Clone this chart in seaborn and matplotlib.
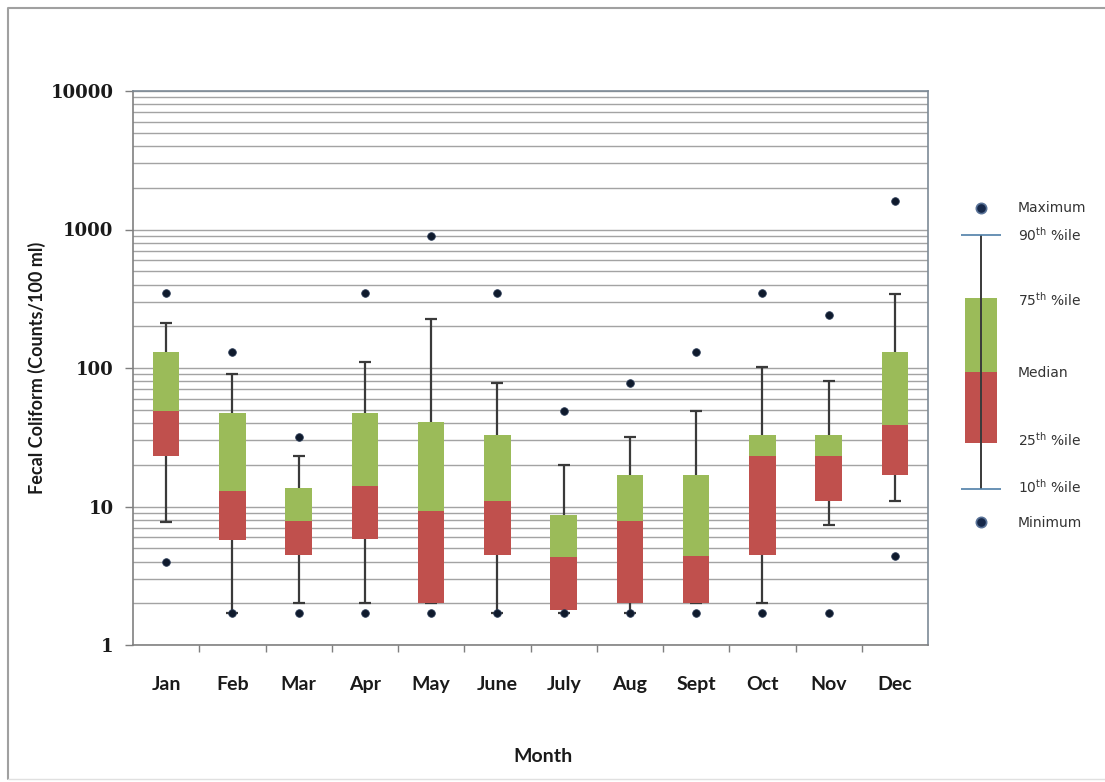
import numpy as np
import seaborn as sns
import matplotlib.pyplot as plt
from matplotlib.ticker import FixedLocator, NullFormatter

sns.set_theme(style="white")

# monthly fecal coliform summary (counts/100 ml)
months = ["Jan", "Feb", "Mar", "Apr", "May", "June", "July", "Aug", "Sept", "Oct", "Nov", "Dec"]
maximum = [350, 130, 32, 350, 900, 350, 49, 78, 130, 350, 240, 1600]
p90 = [210, 91, 23, 110, 225, 78, 20, 32, 49, 102, 81, 345]
p75 = [130, 47, 13.5, 47, 41, 33, 8.7, 17, 17, 33, 33, 130]
median = [49, 13, 7.8, 14, 9.3, 11, 4.3, 7.8, 4.4, 23, 23, 39]
p25 = [23, 5.7, 4.5, 5.8, 2.0, 4.5, 1.8, 2.0, 2.0, 4.5, 11, 17]
p10 = [7.7, 1.7, 2.0, 2.0, 2.0, 1.7, 1.7, 1.7, 2.0, 2.0, 7.4, 11]
minimum = [4.0, 1.7, 1.7, 1.7, 1.7, 1.7, 1.7, 1.7, 1.7, 1.7, 1.7, 4.4]

green = "#9BBB59"
red = "#C0504D"
dot = "#0f1a2c"
whisk = "#3a3a3a"

fig = plt.figure(figsize=(11.05, 7.82), dpi=100)
W, H = 1105, 782
ax = fig.add_axes([133 / W, 1 - 645 / H, (928 - 133) / W, (645 - 91) / H])
ax.set_yscale("log")
ax.set_ylim(1, 10000)

x = np.arange(len(months))
lo = np.array(p25)
md = np.array(median)
hi = np.array(p75)

# whiskers (10th - 25th, 75th - 90th) with caps
ax.vlines(x, p10, lo, color=whisk, lw=1.6, zorder=3)
ax.vlines(x, hi, p90, color=whisk, lw=1.6, zorder=3)
ax.hlines(p10, x - 0.09, x + 0.09, color=whisk, lw=1.6, zorder=3)
ax.hlines(p90, x - 0.09, x + 0.09, color=whisk, lw=1.6, zorder=3)

# lower half of the box (red) and upper half (green)
sns.barplot(x=months, y=md - lo, bottom=lo, color=red, saturation=1, width=0.4,
            linewidth=0, errorbar=None, ax=ax, zorder=4)
sns.barplot(x=months, y=hi - md, bottom=md, color=green, saturation=1, width=0.4,
            linewidth=0, errorbar=None, ax=ax, zorder=4)

# max / min points
sns.scatterplot(x=months, y=maximum, color=dot, s=30, edgecolor="#2a3a55", linewidth=0.6, ax=ax, zorder=5)
sns.scatterplot(x=months, y=minimum, color=dot, s=30, edgecolor="#2a3a55", linewidth=0.6, ax=ax, zorder=5)

ax.set_xlim(-0.5, len(months) - 0.5)
ax.set_ylim(1, 10000)

# gridlines on every log step
ax.yaxis.set_major_locator(FixedLocator([1, 10, 100, 1000, 10000]))
minors = [m * 10 ** d for d in range(4) for m in range(2, 10)]
ax.yaxis.set_minor_locator(FixedLocator(minors))
ax.yaxis.set_minor_formatter(NullFormatter())
ax.set_yticklabels(["1", "10", "100", "1000", "10000"])
ax.grid(True, which="both", axis="y", color="#a3a3a3", lw=1)
ax.grid(False, axis="x")
ax.set_axisbelow(True)

ax.tick_params(axis="y", which="major", left=True, length=6, width=1, color="#7f7f7f", pad=8)
ax.tick_params(axis="y", which="minor", length=0)
for t in ax.get_yticklabels():
    t.set_fontfamily("DejaVu Serif")
    t.set_fontweight("bold")
    t.set_fontsize(13)
    t.set_color("#1a1a1a")

# x ticks between categories
ax.set_xticks(x)
ax.set_xticks(x[1:] - 0.5, minor=True)
ax.tick_params(axis="x", which="major", length=0, pad=22)
ax.tick_params(axis="x", which="minor", bottom=True, length=5, width=1, color="#7f7f7f")
for t in ax.get_xticklabels():
    t.set_fontfamily("Lato")
    t.set_fontweight("bold")
    t.set_fontsize(14)
    t.set_color("#1a1a1a")

ax.set_xlabel("Month", fontsize=14, fontweight="bold", family="Lato", color="#1a1a1a")
ax.xaxis.set_label_coords((543 - 133) / (928 - 133), -(748 - 645) / (645 - 91))
ax.set_ylabel("Fecal Coliform (Counts/100 ml)", fontsize=13, fontweight="bold", family="Lato",
              labelpad=3, color="#1a1a1a")

for side in ["top", "right"]:
    ax.spines[side].set_color("#7d8a96")
    ax.spines[side].set_linewidth(1.2)
for side in ["left", "bottom"]:
    ax.spines[side].set_color("#808080")
    ax.spines[side].set_linewidth(1.2)

# legend key drawn in figure pixels
lg = fig.add_axes([0, 0, 1, 1], zorder=-1)
lg.set_xlim(0, W)
lg.set_ylim(H, 0)
lg.axis("off")
lg.patch.set_alpha(0)
cx = 981
lg.vlines(cx, 235, 489, color=whisk, lw=1.4)
lg.hlines([235, 489], cx - 20, cx + 20, color="#4f7fa8", lw=1.2)
lg.add_patch(plt.Rectangle((cx - 16, 298), 32, 74, color=green, lw=0))
lg.add_patch(plt.Rectangle((cx - 16, 372), 32, 71, color=red, lw=0))
lg.scatter([cx, cx], [208, 522], s=55, color="#16284a", edgecolor="#5a7398", linewidth=1.2)
tx = 1018
labels = [(208, "Maximum"), (235, "90$^{\\mathrm{th}}$ %ile"), (300, "75$^{\\mathrm{th}}$ %ile"),
          (373, "Median"), (440, "25$^{\\mathrm{th}}$ %ile"), (487, "10$^{\\mathrm{th}}$ %ile"),
          (523, "Minimum")]
for yy, s in labels:
    lg.text(tx, yy, s, fontsize=10, family="DejaVu Sans", color="#333333", va="center", ha="left")

# outer chart-area border
lg.plot([8, 8, 1106], [779, 8, 8], color="#a0a0a0", lw=1.5)
lg.plot([8, 1106], [779, 779], color="#e0e0e0", lw=1.0)

fig.savefig("out.png", dpi=100)
